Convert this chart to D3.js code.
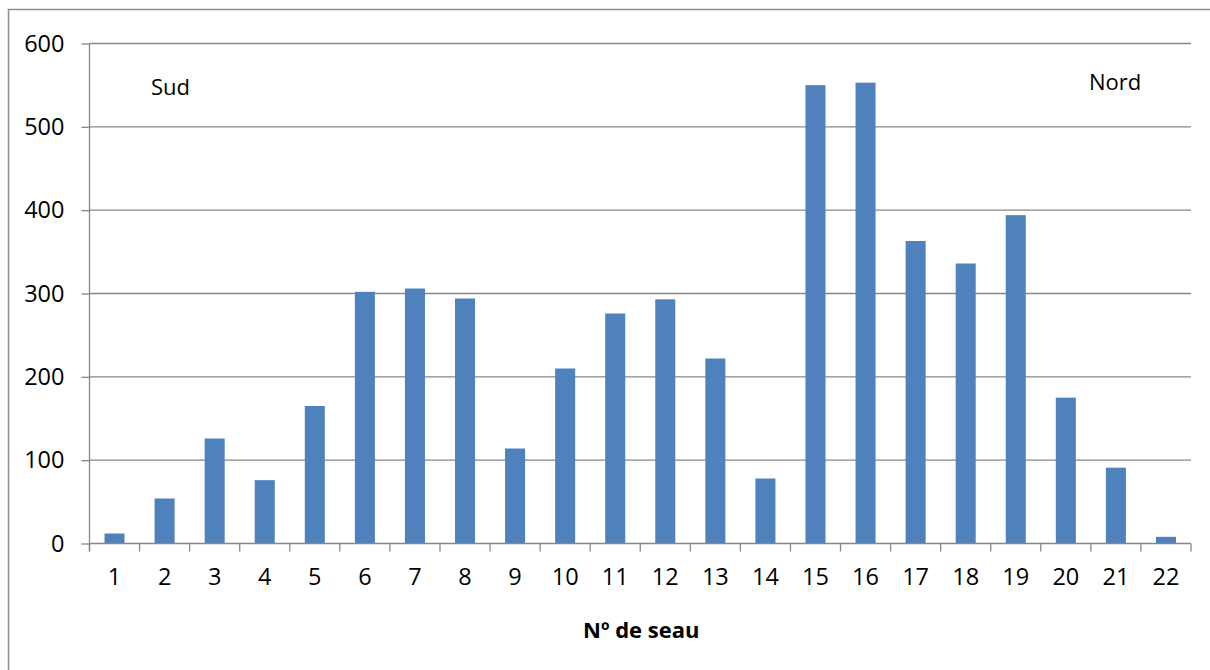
<!DOCTYPE html>
<html>
<head>
<meta charset="utf-8">
<script src="https://cdn.jsdelivr.net/npm/d3@7"></script>
<style>
  html, body { margin: 0; padding: 0; background: #fff; }
  svg { display: block; }
  text { font-family: "Open Sans", "Liberation Sans", sans-serif; fill: #000; }
</style>
</head>
<body>
<svg id="chart" width="1210" height="670"></svg>
<script>
// Bucket numbers along the transect (south to north)
const buckets = ["1","2","3","4","5","6","7","8","9","10","11","12","13","14","15","16","17","18","19","20","21","22"];
// Count collected in each bucket
const counts = [12, 54, 126, 76, 165, 302, 306, 294, 114, 210, 276, 293, 222, 78, 550, 553, 363, 336, 394, 175, 91, 8];
// Value axis ticks
const yTicks = [0, 100, 200, 300, 400, 500, 600];

const svg = d3.select("#chart");
const W = 1210, H = 670;
const plot = { left: 89.5, right: 1191, top: 43.5, bottom: 543.5 };
const FS = 23.5;

// Outer chart frame (extends past the right and bottom edges)
svg.append("rect")
  .attr("x", 8.5).attr("y", 9.5)
  .attr("width", W + 10).attr("height", H + 10)
  .attr("fill", "none").attr("stroke", "#8c8c8c").attr("stroke-width", 1.5);

const x = d3.scaleBand().domain(buckets).range([plot.left, plot.right]).paddingInner(0.6).paddingOuter(0.3);
const xEdges = d3.scaleBand().domain(buckets).range([plot.left, plot.right]).padding(0);
const y = d3.scaleLinear().domain([0, 600]).range([plot.bottom, plot.top]);

// Horizontal gridlines
svg.append("g").selectAll("line").data(yTicks.filter(d => d > 0)).join("line")
  .attr("x1", plot.left).attr("x2", plot.right)
  .attr("y1", d => y(d)).attr("y2", d => y(d))
  .attr("stroke", "#878787").attr("stroke-width", 1.3);

// Bars
svg.append("g").selectAll("rect").data(counts).join("rect")
  .attr("x", (d, i) => x(buckets[i]))
  .attr("y", d => y(d))
  .attr("width", x.bandwidth())
  .attr("height", d => y(0) - y(d))
  .attr("fill", "#4f81bd");

// Y axis
const yAxis = d3.axisLeft(y).tickValues(yTicks).tickSize(8).tickPadding(17).tickFormat(d3.format("d"));
const gy = svg.append("g").attr("transform", `translate(${plot.left},0)`).call(yAxis);
gy.select(".domain").attr("stroke", "#878787").attr("stroke-width", 1.3)
  .attr("d", `M0,${plot.top}V${plot.bottom + 8}`);
gy.selectAll(".tick line").attr("stroke", "#878787").attr("stroke-width", 1.3);
gy.selectAll(".tick text").attr("font-size", FS).attr("font-family", "Open Sans, sans-serif").attr("fill", "#000");

// X axis: labels centred in each band, tick marks at band edges
const xAxis = d3.axisBottom(x).tickSize(0).tickPadding(24.5);
const gx = svg.append("g").attr("transform", `translate(0,${plot.bottom})`).call(xAxis);
gx.select(".domain").attr("stroke", "#878787").attr("stroke-width", 1.3)
  .attr("d", `M${plot.left},0H${plot.right}`);
gx.selectAll(".tick text").attr("font-size", FS).attr("font-family", "Open Sans, sans-serif").attr("fill", "#000");

const edges = buckets.map(b => xEdges(b)).concat([plot.right]);
svg.append("g").selectAll("line").data(edges).join("line")
  .attr("x1", d => d).attr("x2", d => d)
  .attr("y1", plot.bottom).attr("y2", plot.bottom + 8)
  .attr("stroke", "#878787").attr("stroke-width", 1.3);

// Axis title
svg.append("text")
  .attr("x", (plot.left + plot.right) / 2 + 1).attr("y", 638)
  .attr("text-anchor", "middle")
  .attr("font-size", 22).attr("font-weight", "bold")
  .text("Nº de seau");

// Orientation labels
svg.append("text").attr("x", 151).attr("y", 95).attr("font-size", 22).text("Sud");
svg.append("text").attr("x", 1089).attr("y", 90).attr("font-size", 22).text("Nord");
</script>
</body>
</html>
